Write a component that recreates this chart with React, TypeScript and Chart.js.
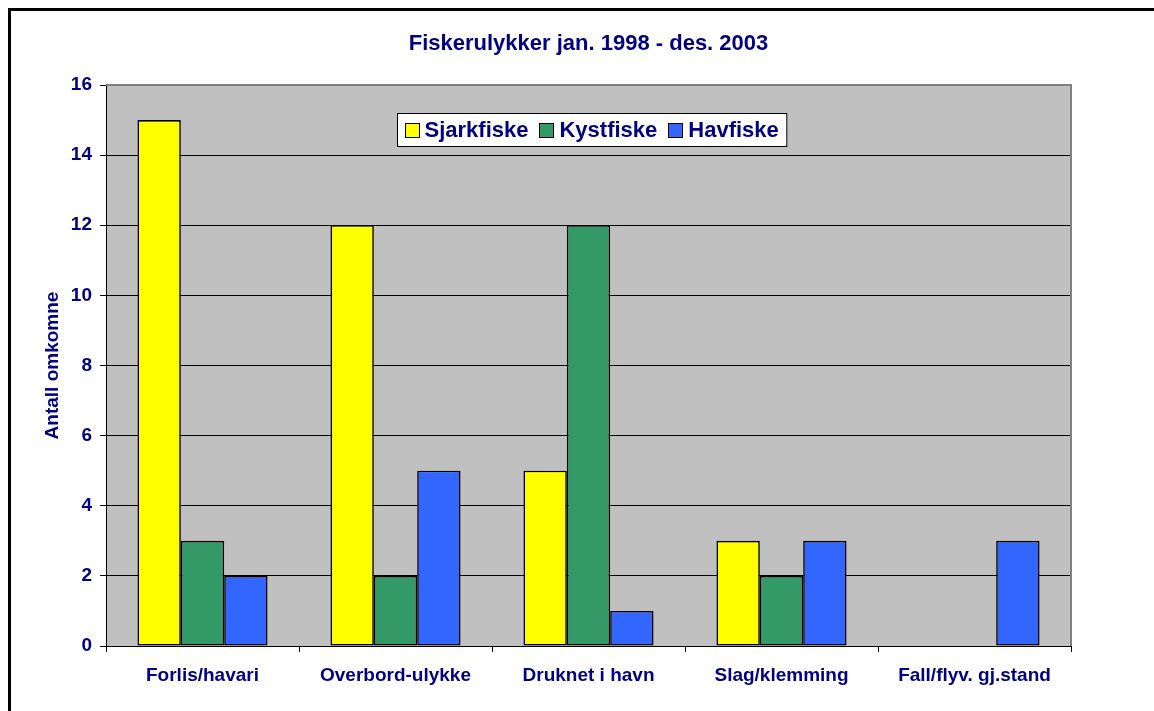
import React, { useEffect, useRef } from "react";
import { Chart, registerables } from "chart.js";

Chart.register(...registerables);

const categories = ["Forlis/havari", "Overbord-ulykke", "Druknet i havn", "Slag/klemming", "Fall/flyv. gj.stand"];
const sjarkfiske = [15, 12, 5, 3, 0];
const kystfiske = [3, 2, 12, 2, 0];
const havfiske = [2, 5, 1, 3, 3];
const seriesNames = ["Sjarkfiske", "Kystfiske", "Havfiske"];
const seriesColors = ["#FFFF00", "#339966", "#3366FF"];
const titleText = "Fiskerulykker jan. 1998 - des. 2003";
const yTitle = "Antall omkomne";

const FONT = "'Liberation Sans', Arial, sans-serif";
const NAVY = "#000080";

const bgPlugin = {
  id: "plotBg",
  beforeDraw(chart: any) {
    const { ctx, chartArea: a } = chart;
    ctx.save();
    ctx.fillStyle = "#C0C0C0";
    ctx.fillRect(a.left, a.top, a.right - a.left, a.bottom - a.top);
    ctx.restore();
  },
  beforeDatasetsDraw(chart: any) {
    const { ctx, chartArea: a } = chart;
    ctx.save();
    ctx.strokeStyle = "#808080";
    ctx.lineWidth = 2;
    ctx.beginPath();
    ctx.moveTo(a.left, a.top);
    ctx.lineTo(a.right, a.top);
    ctx.lineTo(a.right, a.bottom);
    ctx.stroke();
    ctx.restore();
  },
};

const overlayPlugin = {
  id: "overlay",
  afterDraw(chart: any) {
    const { ctx, chartArea: a } = chart;
    const cx = (a.left + a.right) / 2;
    ctx.save();
    // title
    ctx.fillStyle = NAVY;
    ctx.font = `bold 22px ${FONT}`;
    ctx.textAlign = "center";
    ctx.textBaseline = "middle";
    ctx.fillText(titleText, cx, 44);

    // legend
    ctx.font = `bold 22px ${FONT}`;
    const widths = seriesNames.map((n) => ctx.measureText(n).width);
    const padL = 7, padR = 8, sq = 14, gapSq = 6, gapItem = 11;
    const total = padL + padR + widths.reduce((s, w) => s + w + sq + gapSq, 0) + gapItem * (seriesNames.length - 1);
    const boxH = 33;
    const boxL = Math.round(cx + 3 - total / 2) + 0.5;
    const boxT = a.top + 28 + 0.5;
    ctx.fillStyle = "#FFFFFF";
    ctx.fillRect(boxL, boxT, total, boxH);
    ctx.strokeStyle = "#000000";
    ctx.lineWidth = 1;
    ctx.strokeRect(boxL, boxT, total, boxH);
    let x = boxL + padL;
    const midY = boxT + boxH / 2;
    ctx.textAlign = "left";
    seriesNames.forEach((n, i) => {
      ctx.fillStyle = seriesColors[i];
      const sx = Math.round(x) + 0.5;
      const sy = Math.round(midY - sq / 2) + 0.5;
      ctx.fillRect(sx, sy, sq, sq);
      ctx.strokeStyle = "#000";
      ctx.strokeRect(sx, sy, sq, sq);
      x += sq + gapSq;
      ctx.fillStyle = NAVY;
      ctx.fillText(n, x, midY + 1);
      x += widths[i] + gapItem;
    });
    ctx.restore();
  },
};

export default function App() {
  const ref = useRef<HTMLCanvasElement>(null);
  useEffect(() => {
    if (!ref.current) return;
    const datasets = [sjarkfiske, kystfiske, havfiske].map((d, i) => ({
      label: seriesNames[i],
      data: d,
      backgroundColor: seriesColors[i],
      borderColor: "#000000",
      borderWidth: 1.6,
      borderSkipped: false as any,
      categoryPercentage: 0.674,
      barPercentage: 1,
    }));
    const chart = new Chart(ref.current, {
      type: "bar",
      data: { labels: categories, datasets },
      plugins: [bgPlugin, overlayPlugin],
      options: {
        animation: false,
        responsive: false,
        devicePixelRatio: 1,
        layout: { padding: { left: 35, right: 83, top: 85, bottom: 0 } },
        plugins: {
          legend: { display: false },
          title: { display: false },
          tooltip: { enabled: false },
        },
        scales: {
          x: {
            afterFit(scale: any) {
              scale.height = 65;
            },
            grid: {
              offset: true,
              drawOnChartArea: false,
              tickLength: 6,
              tickColor: "#000",
              color: "#000",
            },
            border: { color: "#000", width: 1 },
            ticks: {
              color: NAVY,
              padding: 12,
              font: { family: FONT, size: 19, weight: "bold" },
              maxRotation: 0,
              autoSkip: false,
            },
          },
          y: {
            min: 0,
            max: 16,
            afterFit(scale: any) {
              scale.width = 71;
            },
            grid: {
              color: (c: any) => (c.tick && c.tick.value === 16 ? "rgba(0,0,0,0)" : "#000"),
              tickColor: "#000",
              tickLength: 6,
            },
            border: { color: "#000", width: 1 },
            ticks: {
              stepSize: 2,
              color: NAVY,
              padding: 8,
              font: { family: FONT, size: 19, weight: "bold" },
            },
            title: {
              display: true,
              text: yTitle,
              color: NAVY,
              font: { family: FONT, size: 19, weight: "bold" },
              padding: { top: 6, bottom: 0 },
            },
          },
        },
      },
    });
    return () => chart.destroy();
  }, []);
  return (
    <div style={{ position: "fixed", left: 0, top: 0, width: 1154, height: 711, background: "#fff" }}>
      <canvas ref={ref} width={1154} height={711} style={{ position: "absolute", left: 0, top: 0 }} />
      <div
        style={{
          position: "absolute",
          left: 8,
          top: 8,
          width: 1160,
          height: 720,
          border: "3px solid #000",
          pointerEvents: "none",
        }}
      />
    </div>
  );
}
